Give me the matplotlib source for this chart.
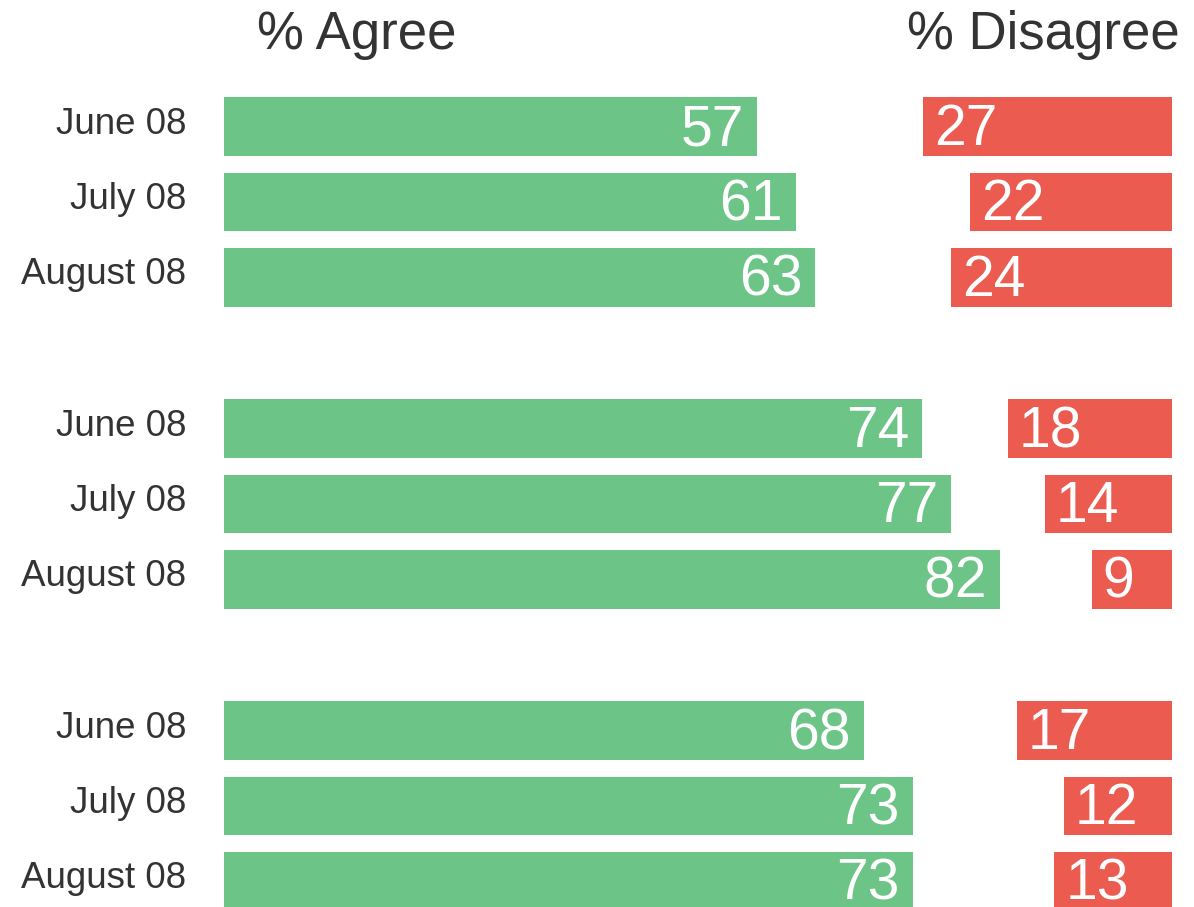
import matplotlib
matplotlib.use("Agg")
import matplotlib.pyplot as plt
import matplotlib.transforms as mtransforms

plt.rcParams['font.family'] = ['Liberation Sans', 'DejaVu Sans']

row_labels = ["June 08", "July 08", "August 08",
              "June 08", "July 08", "August 08",
              "June 08", "July 08", "August 08"]
agree = [57, 61, 63, 74, 77, 82, 68, 73, 73]
disagree = [27, 22, 24, 18, 14, 9, 17, 12, 13]
row_pos = [0, 1, 2, 4, 5, 6, 8, 9, 10]

GREEN = "#6CC487"
RED = "#EB5B50"
TEXT = "#333333"

W, H = 1194, 907
fig = plt.figure(figsize=(W / 100, H / 100), dpi=100)

def px_rect(x0, x1, y_top, y_bot):
    return [x0 / W, 1 - y_bot / H, (x1 - x0) / W, (y_bot - y_top) / H]

y_top = 126.5 - 37.75
y_bot = 881.5 + 37.75

# Disagree axes (drawn first, transparent)
axd = fig.add_axes(px_rect(900, 1172, y_top, y_bot))
axd.patch.set_visible(False)
axd.barh(row_pos, disagree, height=0.77, color=RED, left=0)
axd.set_xlim(29.5, 0.43)
axd.set_ylim(10.5, -0.5)
axd.set_xticks([])
axd.set_yticks([])
for s in axd.spines.values():
    s.set_visible(False)
for y, v in zip(row_pos, disagree):
    axd.annotate(str(v), (v, y), xytext=(11, -18.5), textcoords='offset pixels',
                 ha='left', va='baseline', color='white', fontsize=41)

# Agree axes
axa = fig.add_axes(px_rect(224, 1000, y_top, y_bot))
axa.patch.set_visible(False)
axa.barh(row_pos, agree, height=0.77, color=GREEN, left=0)
axa.set_xlim(2.16, 82.0)
axa.set_ylim(10.5, -0.5)
axa.set_yticks(row_pos)
axa.set_yticklabels(row_labels, fontsize=26.5, color=TEXT)
axa.tick_params(axis='y', length=0, pad=27)
shift = mtransforms.ScaledTranslation(0, 0.065, fig.dpi_scale_trans)
for lab in axa.get_yticklabels():
    lab.set_transform(lab.get_transform() + shift)
axa.set_xticks([])
for s in axa.spines.values():
    s.set_visible(False)
for y, v in zip(row_pos, agree):
    axa.annotate(str(v), (v, y), xytext=(-13, -18.5), textcoords='offset pixels',
                 ha='right', va='baseline', color='white', fontsize=41)

fig.text(357 / W, 1 - 49 / H, "% Agree", ha='center', va='baseline',
         fontsize=38, color=TEXT)
fig.text(1043 / W, 1 - 49 / H, "% Disagree", ha='center', va='baseline',
         fontsize=38, color=TEXT)

fig.savefig("out.png", dpi=100)
